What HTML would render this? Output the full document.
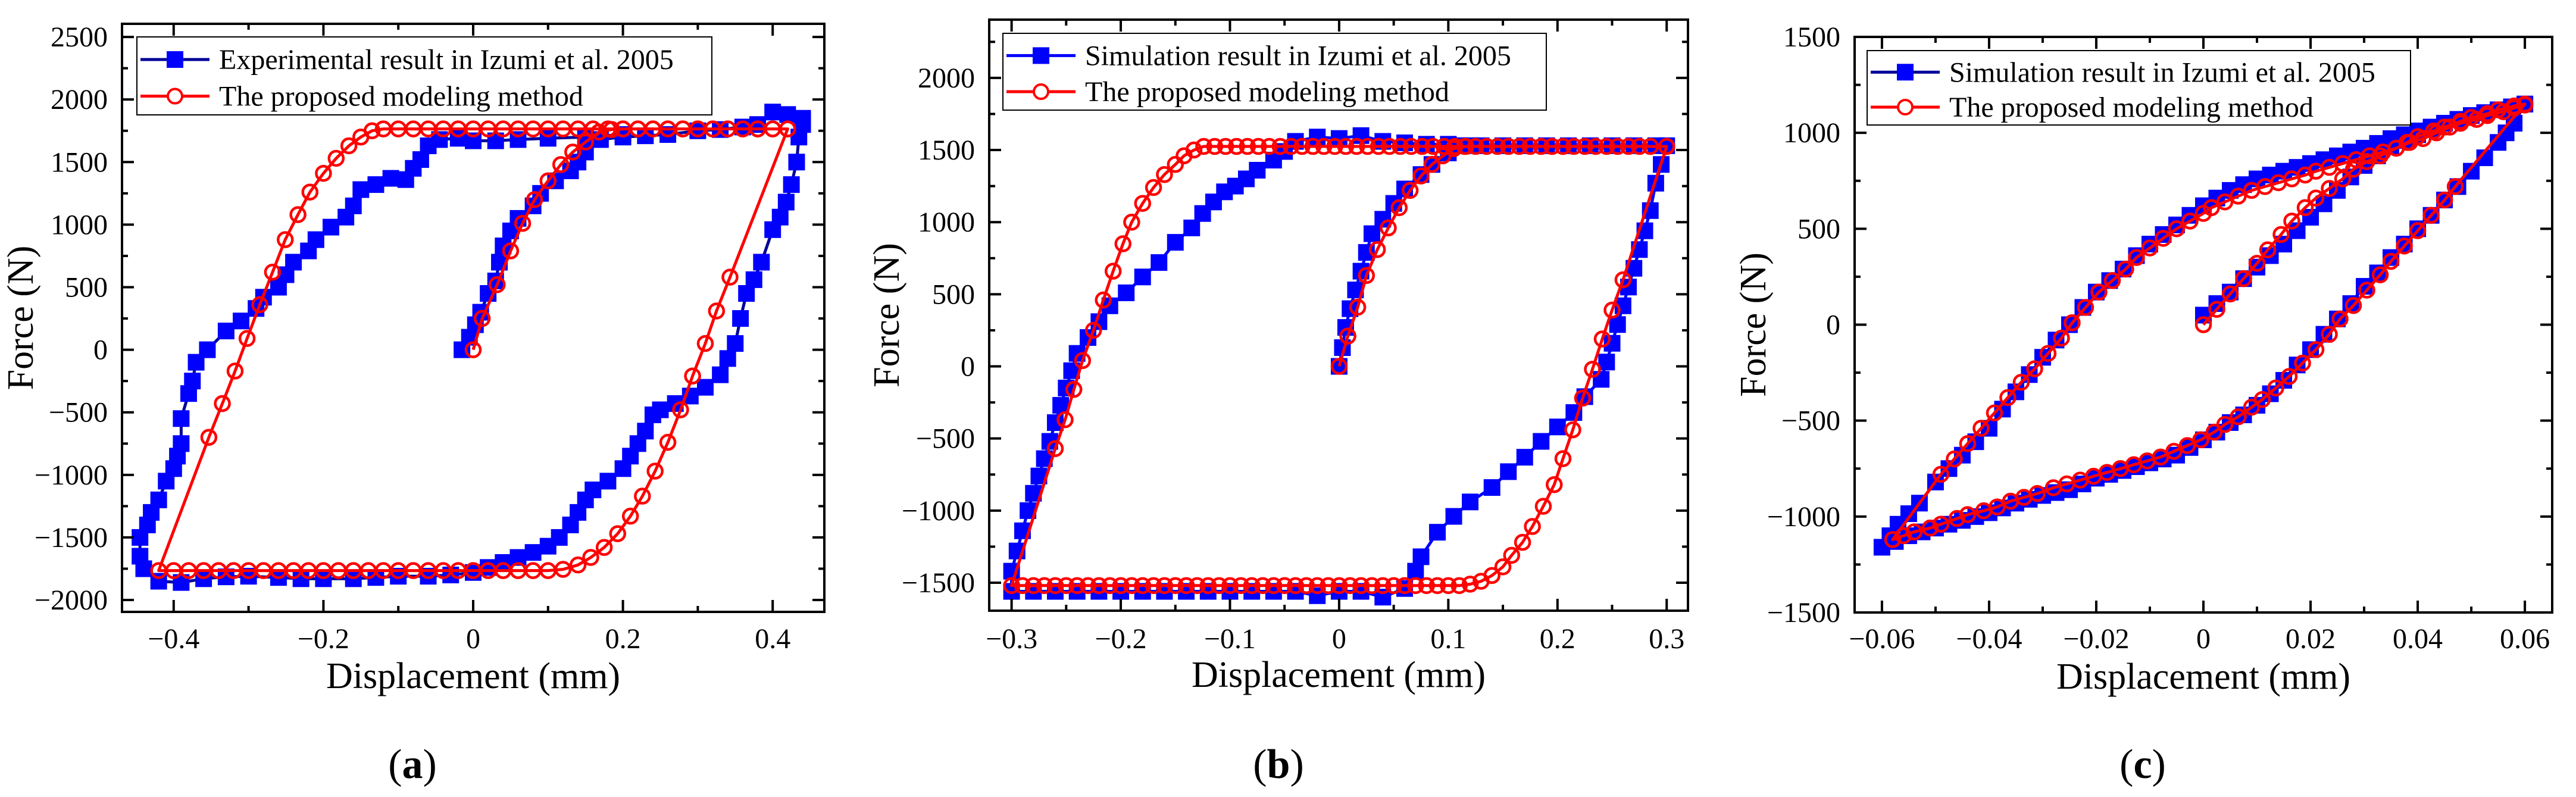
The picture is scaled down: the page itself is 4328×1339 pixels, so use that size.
<!DOCTYPE html>
<html><head><meta charset="utf-8">
<style>
html,body{margin:0;padding:0;background:#fff;}
svg{display:block;}
svg text{font-family:"Liberation Serif","DejaVu Serif",serif;}
</style></head>
<body>
<svg id="fig" width="4328" height="1339" viewBox="0 0 4328 1339" xmlns="http://www.w3.org/2000/svg" font-family="Liberation Serif, DejaVu Serif, serif"></svg>
<script>
// ---------- Panel (a) data ----------
const aBlue = [[-0.015,0],[-0.005,100],[0.003,200],[0.01,300],[0.02,450],[0.03,550],[0.035,700],[0.04,830],[0.05,950],[0.06,1050],[0.08,1150],[0.09,1250],[0.11,1350],[0.13,1430],[0.14,1500],[0.15,1580],[0.17,1680],[0.2,1700],[0.23,1710],[0.26,1720],[0.3,1750],[0.33,1760],[0.36,1780],[0.38,1800],[0.4,1900],[0.42,1880],[0.44,1850],[0.44,1800],[0.435,1700],[0.432,1500],[0.425,1320],[0.418,1180],[0.41,1060],[0.4,960],[0.385,700],[0.375,560],[0.365,450],[0.357,250],[0.35,50],[0.34,-70],[0.33,-200],[0.31,-300],[0.29,-370],[0.27,-430],[0.25,-480],[0.24,-520],[0.23,-650],[0.22,-750],[0.21,-850],[0.2,-950],[0.18,-1050],[0.16,-1120],[0.15,-1200],[0.14,-1300],[0.13,-1400],[0.115,-1500],[0.1,-1570],[0.08,-1620],[0.06,-1660],[0.04,-1700],[0.02,-1740],[0,-1780],[-0.03,-1800],[-0.06,-1810],[-0.1,-1810],[-0.13,-1820],[-0.16,-1830],[-0.2,-1830],[-0.23,-1830],[-0.26,-1820],[-0.3,-1810],[-0.33,-1815],[-0.36,-1830],[-0.39,-1860],[-0.42,-1850],[-0.44,-1750],[-0.445,-1650],[-0.445,-1500],[-0.435,-1400],[-0.43,-1300],[-0.42,-1200],[-0.41,-1050],[-0.4,-950],[-0.395,-850],[-0.39,-750],[-0.39,-550],[-0.38,-350],[-0.375,-250],[-0.37,-100],[-0.355,0],[-0.33,150],[-0.31,230],[-0.29,330],[-0.28,420],[-0.26,500],[-0.25,600],[-0.24,700],[-0.22,790],[-0.21,880],[-0.19,980],[-0.17,1060],[-0.16,1150],[-0.15,1280],[-0.13,1320],[-0.11,1370],[-0.09,1360],[-0.08,1450],[-0.07,1520],[-0.06,1630],[-0.045,1680],[-0.02,1690],[0,1670],[0.03,1670],[0.06,1680],[0.1,1690],[0.15,1700],[0.2,1720]];
const aRed = [[0,0],[0.012,250],[0.032,520],[0.05,790],[0.066,1010],[0.082,1200],[0.1,1350],[0.117,1480],[0.133,1580],[0.15,1660],[0.168,1740],[0.185,1760],[0.2,1765],[0.22,1765],[0.24,1765],[0.26,1765],[0.28,1765],[0.3,1765],[0.32,1765],[0.34,1765],[0.36,1765],[0.38,1765],[0.4,1765],[0.42,1765],[0.343,580],[0.325,310],[0.31,50],[0.293,-210],[0.277,-480],[0.26,-740],[0.243,-970],[0.226,-1170],[0.21,-1330],[0.193,-1470],[0.175,-1580],[0.157,-1660],[0.14,-1720],[0.12,-1755],[0.1,-1765],[0.08,-1765],[0.06,-1765],[0.04,-1765],[0.02,-1765],[0,-1765],[-0.02,-1765],[-0.04,-1765],[-0.06,-1765],[-0.08,-1765],[-0.1,-1765],[-0.12,-1765],[-0.14,-1765],[-0.16,-1765],[-0.18,-1765],[-0.2,-1765],[-0.22,-1765],[-0.24,-1765],[-0.26,-1765],[-0.28,-1765],[-0.3,-1765],[-0.32,-1765],[-0.34,-1765],[-0.36,-1765],[-0.38,-1765],[-0.4,-1765],[-0.42,-1765],[-0.353,-700],[-0.335,-430],[-0.318,-170],[-0.302,90],[-0.285,360],[-0.268,620],[-0.251,880],[-0.234,1080],[-0.218,1260],[-0.2,1410],[-0.183,1530],[-0.166,1630],[-0.15,1700],[-0.135,1750],[-0.12,1765],[-0.1,1765],[-0.08,1765],[-0.06,1765],[-0.04,1765],[-0.02,1765],[0,1765],[0.02,1765],[0.04,1765],[0.06,1765],[0.08,1765],[0.1,1765],[0.12,1765],[0.14,1765],[0.16,1765],[0.18,1765],[0.2,1765],[0.22,1765],[0.24,1765],[0.26,1765],[0.28,1765],[0.3,1765],[0.32,1765],[0.34,1765],[0.36,1765],[0.38,1765],[0.4,1765],[0.42,1765]];
const aXTicks = [-0.4,-0.2,0,0.2,0.4];
const aXLabels = ["\u22120.4","\u22120.2","0","0.2","0.4"];
const aYTicks = [-2000,-1500,-1000,-500,0,500,1000,1500,2000,2500];
const aYLabels = ["\u22122000","\u22121500","\u22121000","\u2212500","0","500","1000","1500","2000","2500"];

// ---------- Panel (b) data ----------
const bBlue = [[0,0],[0.003,130],[0.006,270],[0.01,400],[0.015,530],[0.02,660],[0.025,790],[0.03,920],[0.04,1020],[0.05,1130],[0.06,1230],[0.075,1330],[0.085,1400],[0.1,1480],[0.11,1530],[0.13,1530],[0.15,1530],[0.17,1530],[0.19,1530],[0.21,1530],[0.23,1530],[0.25,1530],[0.27,1530],[0.29,1530],[0.3,1530],[0.295,1400],[0.29,1270],[0.285,1080],[0.28,940],[0.275,810],[0.27,680],[0.265,550],[0.26,420],[0.255,290],[0.25,160],[0.245,30],[0.24,-90],[0.225,-210],[0.215,-320],[0.2,-420],[0.185,-520],[0.17,-630],[0.155,-730],[0.14,-840],[0.12,-940],[0.105,-1040],[0.09,-1150],[0.075,-1320],[0.07,-1420],[0.06,-1540],[0.04,-1600],[0.02,-1560],[0,-1560],[-0.02,-1590],[-0.04,-1560],[-0.06,-1560],[-0.08,-1560],[-0.1,-1560],[-0.12,-1560],[-0.14,-1560],[-0.16,-1560],[-0.18,-1560],[-0.2,-1560],[-0.22,-1560],[-0.24,-1560],[-0.26,-1560],[-0.28,-1560],[-0.3,-1560],[-0.3,-1420],[-0.295,-1280],[-0.29,-1140],[-0.285,-1000],[-0.28,-880],[-0.275,-760],[-0.27,-640],[-0.265,-520],[-0.26,-390],[-0.255,-270],[-0.25,-150],[-0.245,-30],[-0.24,90],[-0.23,200],[-0.22,310],[-0.21,420],[-0.195,510],[-0.18,620],[-0.165,720],[-0.15,860],[-0.135,960],[-0.125,1060],[-0.115,1140],[-0.105,1210],[-0.095,1250],[-0.085,1300],[-0.075,1360],[-0.06,1430],[-0.05,1490],[-0.04,1560],[-0.02,1590],[0,1580],[0.02,1600],[0.04,1560],[0.06,1550],[0.08,1540],[0.1,1540],[0.12,1530]];
const bRed = [[0,0],[0.008,210],[0.017,410],[0.025,630],[0.035,810],[0.045,960],[0.055,1100],[0.065,1220],[0.075,1320],[0.085,1400],[0.095,1460],[0.105,1510],[0.115,1525],[0.125,1525],[0.135,1525],[0.145,1525],[0.155,1525],[0.165,1525],[0.175,1525],[0.185,1525],[0.195,1525],[0.205,1525],[0.215,1525],[0.225,1525],[0.235,1525],[0.245,1525],[0.255,1525],[0.265,1525],[0.275,1525],[0.285,1525],[0.3,1525],[0.26,600],[0.25,390],[0.241,190],[0.232,-20],[0.223,-220],[0.214,-440],[0.205,-640],[0.197,-820],[0.187,-970],[0.177,-1110],[0.168,-1220],[0.158,-1310],[0.15,-1390],[0.14,-1450],[0.13,-1490],[0.12,-1510],[0.11,-1520],[0.1,-1520],[0.09,-1520],[0.08,-1520],[0.07,-1520],[0.06,-1520],[0.05,-1520],[0.04,-1520],[0.03,-1520],[0.02,-1520],[0.01,-1520],[0,-1520],[-0.01,-1520],[-0.02,-1520],[-0.03,-1520],[-0.04,-1520],[-0.05,-1520],[-0.06,-1520],[-0.07,-1520],[-0.08,-1520],[-0.09,-1520],[-0.1,-1520],[-0.11,-1520],[-0.12,-1520],[-0.13,-1520],[-0.14,-1520],[-0.15,-1520],[-0.16,-1520],[-0.17,-1520],[-0.18,-1520],[-0.19,-1520],[-0.2,-1520],[-0.21,-1520],[-0.22,-1520],[-0.23,-1520],[-0.24,-1520],[-0.25,-1520],[-0.26,-1520],[-0.27,-1520],[-0.28,-1520],[-0.29,-1520],[-0.3,-1520],[-0.26,-570],[-0.251,-370],[-0.243,-160],[-0.235,40],[-0.225,250],[-0.216,460],[-0.207,660],[-0.198,850],[-0.19,1000],[-0.18,1130],[-0.17,1240],[-0.16,1330],[-0.15,1400],[-0.142,1460],[-0.133,1500],[-0.124,1525],[-0.114,1525],[-0.104,1525],[-0.094,1525],[-0.084,1525],[-0.074,1525],[-0.064,1525],[-0.054,1525],[-0.044,1525],[-0.034,1525],[-0.024,1525],[-0.014,1525],[-0.004,1525],[0.006,1525],[0.016,1525],[0.026,1525],[0.036,1525],[0.046,1525],[0.056,1525],[0.066,1525],[0.076,1525],[0.086,1525],[0.096,1525],[0.106,1525],[0.116,1525],[0.3,1525]];
const bXTicks = [-0.3,-0.2,-0.1,0,0.1,0.2,0.3];
const bXLabels = ["\u22120.3","\u22120.2","\u22120.1","0","0.1","0.2","0.3"];
const bYTicks = [-1500,-1000,-500,0,500,1000,1500,2000];
const bYLabels = ["\u22121500","\u22121000","\u2212500","0","500","1000","1500","2000"];

// ---------- Panel (c) data ----------
const cBlue = [[0,50],[0.0025,110],[0.005,170],[0.0075,240],[0.01,300],[0.0125,360],[0.015,420],[0.0175,490],[0.02,560],[0.0225,630],[0.025,700],[0.0275,770],[0.03,830],[0.0325,880],[0.035,930],[0.0375,960],[0.04,990],[0.0425,1020],[0.045,1050],[0.0475,1070],[0.05,1090],[0.0525,1105],[0.055,1120],[0.0575,1135],[0.06,1150],[0.058,1050],[0.0565,1000],[0.055,950],[0.0525,870],[0.05,800],[0.0475,720],[0.045,650],[0.0425,570],[0.04,500],[0.0375,420],[0.035,350],[0.0325,270],[0.03,200],[0.0275,110],[0.025,30],[0.0225,-50],[0.02,-130],[0.0175,-210],[0.015,-290],[0.0125,-360],[0.01,-420],[0.0075,-470],[0.005,-510],[0.0025,-560],[0,-600],[-0.0025,-640],[-0.005,-680],[-0.0075,-700],[-0.01,-720],[-0.0125,-740],[-0.015,-760],[-0.0175,-780],[-0.02,-800],[-0.0225,-830],[-0.025,-860],[-0.0275,-875],[-0.03,-890],[-0.0325,-910],[-0.035,-930],[-0.0375,-955],[-0.04,-980],[-0.0425,-1000],[-0.045,-1020],[-0.0475,-1040],[-0.05,-1060],[-0.0525,-1080],[-0.055,-1100],[-0.0575,-1130],[-0.06,-1160],[-0.0585,-1100],[-0.057,-1040],[-0.055,-985],[-0.053,-930],[-0.05,-820],[-0.0475,-750],[-0.045,-680],[-0.0425,-610],[-0.04,-540],[-0.0375,-440],[-0.035,-350],[-0.0325,-260],[-0.03,-170],[-0.0275,-80],[-0.025,0],[-0.0225,90],[-0.02,170],[-0.0175,230],[-0.015,290],[-0.0125,360],[-0.01,420],[-0.0075,470],[-0.005,520],[-0.0025,570],[0,620],[0.0025,660],[0.005,700],[0.0075,730],[0.01,760],[0.0125,780],[0.015,800],[0.0175,820],[0.02,840],[0.0225,860],[0.025,880],[0.0275,900],[0.03,920],[0.0325,945],[0.035,970],[0.0375,990],[0.04,1010],[0.0425,1030],[0.045,1050],[0.0475,1070],[0.05,1090],[0.0525,1105],[0.055,1120],[0.0575,1135],[0.06,1150]];
const cRed = [[0,0],[0.0025,80],[0.005,160],[0.0075,240],[0.01,320],[0.012,390],[0.0145,470],[0.0165,540],[0.019,610],[0.021,660],[0.0235,710],[0.026,760],[0.028,810],[0.0305,850],[0.033,880],[0.036,920],[0.038,950],[0.04,980],[0.043,1010],[0.045,1030],[0.048,1060],[0.05,1080],[0.053,1100],[0.055,1120],[0.058,1140],[0.06,1150],[0.047,720],[0.045,650],[0.0425,570],[0.04,490],[0.0375,410],[0.035,330],[0.033,260],[0.0305,180],[0.028,100],[0.0255,30],[0.0235,-50],[0.021,-130],[0.0185,-200],[0.016,-270],[0.0135,-330],[0.011,-390],[0.009,-430],[0.0065,-480],[0.004,-520],[0.002,-560],[-0.0005,-600],[-0.003,-630],[-0.0055,-660],[-0.008,-690],[-0.0105,-710],[-0.013,-730],[-0.0155,-750],[-0.018,-770],[-0.0205,-790],[-0.023,-810],[-0.0255,-830],[-0.028,-850],[-0.031,-880],[-0.0335,-900],[-0.036,-920],[-0.0385,-950],[-0.041,-970],[-0.044,-990],[-0.046,-1010],[-0.049,-1040],[-0.051,-1060],[-0.054,-1080],[-0.056,-1100],[-0.058,-1120],[-0.049,-780],[-0.0465,-700],[-0.044,-620],[-0.0415,-540],[-0.039,-460],[-0.0365,-380],[-0.034,-300],[-0.0315,-230],[-0.029,-150],[-0.0265,-70],[-0.0245,10],[-0.022,90],[-0.0195,170],[-0.017,230],[-0.0145,290],[-0.0125,350],[-0.01,400],[-0.0075,450],[-0.005,500],[-0.0025,540],[0,580],[0.0015,610],[0.004,640],[0.0065,670],[0.009,700],[0.0115,720],[0.014,740],[0.0165,760],[0.019,780],[0.021,800],[0.0235,820],[0.026,840],[0.0285,860],[0.031,880],[0.0335,900],[0.036,920],[0.0385,950],[0.041,970],[0.0435,1000],[0.046,1030],[0.048,1050],[0.051,1070],[0.053,1090],[0.056,1110],[0.058,1130],[0.06,1145]];
const cXTicks = [-0.06,-0.04,-0.02,0,0.02,0.04,0.06];
const cXLabels = ["\u22120.06","\u22120.04","\u22120.02","0","0.02","0.04","0.06"];
const cYTicks = [-1500,-1000,-500,0,500,1000,1500];
const cYLabels = ["\u22121500","\u22121000","\u2212500","0","500","1000","1500"];

const NS = "http://www.w3.org/2000/svg";
const FONT = "Liberation Serif, DejaVu Serif, serif";
const svg = document.getElementById("fig");
function mk(tag, attrs, parent){
  const e = document.createElementNS(NS, tag);
  for (const k in attrs) e.setAttribute(k, attrs[k]);
  if (tag === "text") e.setAttribute("font-family", FONT);
  (parent||svg).appendChild(e);
  return e;
}

function panel(cfg){
  const g = mk("g", {});
  
  
  const L=cfg.L,R=cfg.R,T=cfg.T,B=cfg.B;
  const sx = v => L + (v - cfg.x0) / (cfg.x1 - cfg.x0) * (R - L);
  const sy = v => B - (v - cfg.y0) / (cfg.y1 - cfg.y0) * (B - T);
  const clipId = cfg.id + "-clip";
  const defs = mk("defs", {}, g);
  const cp = mk("clipPath", {id: clipId}, defs);
  mk("rect", {x:L, y:T, width:R-L, height:B-T}, cp);

  const plot = mk("g", {"clip-path": "url(#" + clipId + ")"}, g);
  
  
  const bl = mk("polyline", {points: cfg.blue.map(p => sx(p[0]).toFixed(1)+","+sy(p[1]).toFixed(1)).join(" "), fill:"none", stroke:cfg.blueLine, "stroke-width":5, "stroke-linejoin":"round"}, plot);
  
  
  cfg.blue.forEach(p => {
    const r = mk("rect", {x:sx(p[0])-14, y:sy(p[1])-14, width:28, height:28, fill:"#0000ff"}, plot);
    
    
  });
  const rl = mk("polyline", {points: cfg.red.map(p => sx(p[0]).toFixed(1)+","+sy(p[1]).toFixed(1)).join(" "), fill:"none", stroke:"#ff0000", "stroke-width":5, "stroke-linejoin":"round"}, plot);
  
  
  cfg.red.forEach(p => {
    const c = mk("circle", {cx:sx(p[0]), cy:sy(p[1]), r:12, fill:"none", stroke:"#ff0000", "stroke-width":4.5}, plot);
    
    
  });

  const tk = mk("g", {stroke:"#000", "stroke-width":4}, g);
  
  
  cfg.xTicks.forEach((v,i) => {
    const x = sx(v);
    mk("line", {x1:x, y1:B, x2:x, y2:B-20}, tk);
    mk("line", {x1:x, y1:T, x2:x, y2:T+20}, tk);
    const t = mk("text", {x:x, y:cfg.xLabY, "text-anchor":"middle", "font-size":48, fill:"#000", stroke:"none"}, g);
    t.textContent = cfg.xLabels[i];
    
    
    if (i < cfg.xTicks.length - 1) {
      const xm = sx((v + cfg.xTicks[i+1]) / 2);
      mk("line", {x1:xm, y1:B, x2:xm, y2:B-10}, tk);
      mk("line", {x1:xm, y1:T, x2:xm, y2:T+10}, tk);
    }
  });
  cfg.yTicks.forEach((v,i) => {
    const y = sy(v);
    mk("line", {x1:L, y1:y, x2:L+20, y2:y}, tk);
    mk("line", {x1:R, y1:y, x2:R-20, y2:y}, tk);
    const t = mk("text", {x:L-24, y:y+16, "text-anchor":"end", "font-size":48, fill:"#000", stroke:"none"}, g);
    t.textContent = cfg.yLabels[i];
    
    
    const vm = v + (cfg.yTicks[1]-cfg.yTicks[0]) / 2;
    if (vm < cfg.y1) {
      const ym = sy(vm);
      mk("line", {x1:L, y1:ym, x2:L+10, y2:ym}, tk);
      mk("line", {x1:R, y1:ym, x2:R-10, y2:ym}, tk);
    }
    const vb = v - (cfg.yTicks[1]-cfg.yTicks[0]) / 2;
    if (i === 0 && vb > cfg.y0) {
      const ym = sy(vb);
      mk("line", {x1:L, y1:ym, x2:L+10, y2:ym}, tk);
      mk("line", {x1:R, y1:ym, x2:R-10, y2:ym}, tk);
    }
  });
  const fr = mk("rect", {x:L, y:T, width:R-L, height:B-T, fill:"none", stroke:"#000", "stroke-width":4}, g);
  
  

  const xt = mk("text", {x:(L+R)/2, y:B+128, "text-anchor":"middle", "font-size":62, fill:"#000"}, g);
  xt.textContent = "Displacement (mm)";
  
  
  const yt = mk("text", {x:0, y:0, "text-anchor":"middle", "font-size":62, fill:"#000", transform:"translate(" + (cfg.yTitleX) + "," + ((T+B)/2) + ") rotate(-90)"}, g);
  yt.textContent = "Force (N)";
  
  

  const lg = mk("g", {}, g);
  
  
  const lb = cfg.leg;
  mk("rect", {x:lb.x, y:lb.y, width:lb.w, height:lb.h, fill:"#fff", stroke:"#000", "stroke-width":2}, lg);
  const r1 = lb.y + lb.h*0.29, r2 = lb.y + lb.h*0.76;
  mk("line", {x1:lb.x+6, y1:r1, x2:lb.x+122, y2:r1, stroke:cfg.blueLine, "stroke-width":5}, lg);
  mk("rect", {x:lb.x+64-14, y:r1-14, width:28, height:28, fill:"#0000ff"}, lg);
  mk("line", {x1:lb.x+6, y1:r2, x2:lb.x+122, y2:r2, stroke:"#ff0000", "stroke-width":5}, lg);
  mk("circle", {cx:lb.x+64, cy:r2, r:12, fill:"#fff", stroke:"#ff0000", "stroke-width":4}, lg);
  const e1 = mk("text", {x:lb.x+138, y:r1+16, "font-size":48, fill:"#000"}, lg);
  e1.textContent = cfg.blueName;
  
  
  const e2 = mk("text", {x:lb.x+138, y:r2+16, "font-size":48, fill:"#000"}, lg);
  e2.textContent = "The proposed modeling method";
  
  

  const cap = mk("text", {x:cfg.capX, y:1307, "text-anchor":"middle", "font-size":70, fill:"#000"}, g);
  cap.innerHTML = '(<tspan font-weight="bold">' + cfg.letter + '</tspan>)';
  
  
}

panel({id:"panel-a", L:205, R:1385, T:40, B:1028, x0:-0.469, x1:0.469, y0:-2095, y1:2605,
  blue:aBlue, red:aRed, blueLine:"#000099", xTicks:aXTicks, xLabels:aXLabels, yTicks:aYTicks, yLabels:aYLabels,
  xLabY:1089, yTitleX:55, leg:{x:230,y:62,w:966,h:131}, blueName:"Experimental result in Izumi et al. 2005", capX:693, letter:"a"});
panel({id:"panel-b", L:1662, R:2836, T:33, B:1026, x0:-0.3205, x1:0.3195, y0:-1694, y1:2404,
  blue:bBlue, red:bRed, blueLine:"#0000ff", xTicks:bXTicks, xLabels:bXLabels, yTicks:bYTicks, yLabels:bYLabels,
  xLabY:1089, yTitleX:1510, leg:{x:1685,y:56,w:913,h:129}, blueName:"Simulation result in Izumi et al. 2005", capX:2148, letter:"b"});
panel({id:"panel-c", L:3116, R:4288, T:62, B:1029, x0:-0.0651, x1:0.0651, y0:-1500, y1:1500,
  blue:cBlue, red:cRed, blueLine:"#000099", xTicks:cXTicks, xLabels:cXLabels, yTicks:cYTicks, yLabels:cYLabels,
  xLabY:1089, yTitleX:2966, leg:{x:3137,y:85,w:913,h:125}, blueName:"Simulation result in Izumi et al. 2005", capX:3600, letter:"c"});
</script>
</body></html>
